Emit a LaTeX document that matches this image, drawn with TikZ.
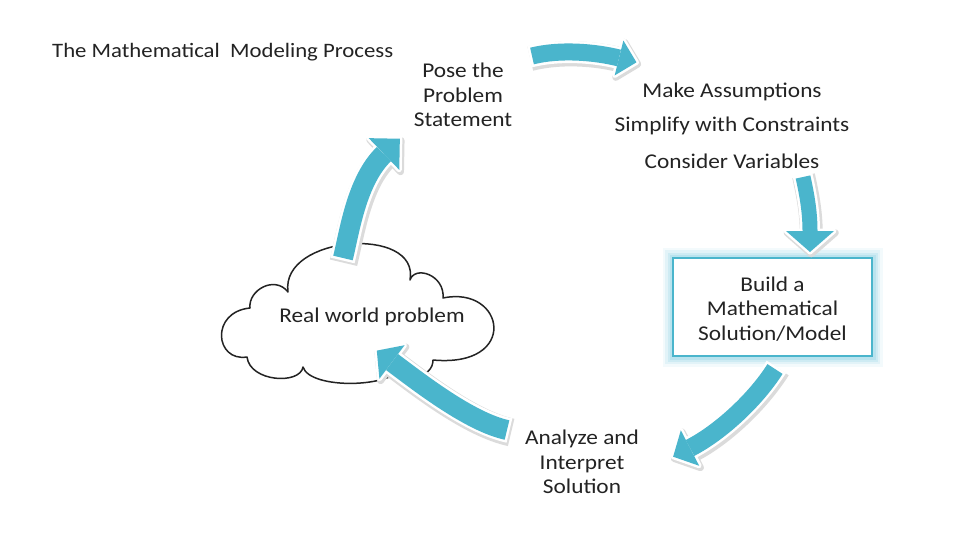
\documentclass[tikz,border=0pt]{standalone}
\usepackage{fontspec}
\setmainfont{Carlito}[FakeStretch=1.11]
\usetikzlibrary{calc}
\definecolor{teal1}{RGB}{74,181,204}
\definecolor{glowc}{RGB}{160,218,234}
\definecolor{ink}{RGB}{35,35,35}
\newcommand{\myblockarrow}[6]{%
  % #1 prefix, #2 head length, #3 head half width, #4 shaft width, #5 white width, #6 shadow width
  \coordinate (#1T) at ($(#1B)!-#2!(#1C2)$);
  \coordinate (#1P) at ($(#1B)!#3!90:(#1T)$);
  \coordinate (#1Q) at ($(#1B)!#3!-90:(#1T)$);
  \begin{scope}[transform canvas={shift={(1.2pt,-1.8pt)}}]
    \draw[draw=black!14, line width=#6, shorten <=-3pt] (#1S) .. controls (#1C1) and (#1C2) .. (#1B);
    \filldraw[fill=black!14, draw=black!14, line width=7pt, line join=round] (#1P) -- (#1T) -- (#1Q) -- cycle;
  \end{scope}
  \draw[white, line width=#5, shorten <=-2.5pt] (#1S) .. controls (#1C1) and (#1C2) .. (#1B);
  \filldraw[white, line width=5pt, line join=round] (#1P) -- (#1T) -- (#1Q) -- cycle;
  \draw[teal1, line width=#4] (#1S) .. controls (#1C1) and (#1C2) .. (#1B);
  \fill[teal1] (#1P) -- (#1T) -- (#1Q) -- cycle;
}
\begin{document}
\begin{tikzpicture}[x=1pt,y=-1pt,
  lbl/.style={font=\fontsize{21}{24.5}\selectfont, align=center, text=ink, inner sep=0pt},
  cloudline/.style={draw=ink, line width=1.5pt, fill=white, line join=round},
  boxline/.style={draw=teal1, line width=2.6pt, fill=white, minimum width=199pt, minimum height=98pt, inner sep=0pt}]
\useasboundingbox (0,0) rectangle (960,540);
\fill[white] (0,0) rectangle (960,540);

% title
\node[lbl, anchor=west, font=\fontsize{20.5}{24}\selectfont] (title) at (52,52) {The Mathematical~ Modeling Process};

% cloud
\draw[cloudline] (288,292) .. controls (280,235) and (420,225) .. (410,280)
  .. controls (415,265) and (445,275) .. (443,298)
  .. controls (505,285) and (520,368) .. (433,360)
  .. controls (433,378) and (405,382) .. (402,366)
  .. controls (395,388) and (310,390) .. (303,367)
  .. controls (300,385) and (250,382) .. (247,357)
  .. controls (215,362) and (210,312) .. (250,308)
  .. controls (248,290) and (275,275) .. (288,292) -- cycle;
\node[lbl] (real) at (372,317) {Real world problem};

% box with glow
\foreach \w/\o in {20/0.12,15/0.2,10/0.3,6/0.45} {
  \draw[draw=glowc, line width=\w pt, opacity=\o] (672.5,257.5) rectangle (872.5,356.5);
}
\node[boxline] (box) at (772.5,307) {};
\node[lbl] (build) at (772.5,309) {Build a\\Mathematical\\Solution/Model};

% texts
\node[lbl] (pose) at (463,95) {Pose the\\Problem\\Statement};
\node[lbl] (ma1) at (732,92) {Make Assumptions};
\node[lbl] (ma2) at (732,126) {Simplify with Constraints};
\node[lbl] (ma3) at (732,161) {Consider Variables};
\node[lbl] (anal) at (582,462) {Analyze and\\Interpret\\Solution};

% arrows
\coordinate (aS) at (532,56); \coordinate (aC1) at (560,49); \coordinate (aC2) at (595,52); \coordinate (aB) at (619,58);
\myblockarrow{a}{18pt}{18pt}{17pt}{22pt}{25pt}
\coordinate (bS) at (803,177); \coordinate (bC1) at (807,195); \coordinate (bC2) at (810,212); \coordinate (bB) at (810,231);
\myblockarrow{b}{21pt}{24pt}{15pt}{20pt}{23pt}
\coordinate (cS) at (775,369); \coordinate (cC1) at (756,399); \coordinate (cC2) at (721,432); \coordinate (cB) at (690,448);
\myblockarrow{c}{19pt}{20pt}{18pt}{23pt}{26pt}
\coordinate (dS) at (507,430); \coordinate (dC1) at (470,422); \coordinate (dC2) at (420,383); \coordinate (dB) at (392,362);
\myblockarrow{d}{19pt}{21pt}{20pt}{25pt}{28pt}
\coordinate (eS) at (343,258); \coordinate (eC1) at (350,229); \coordinate (eC2) at (357,180); \coordinate (eB) at (384,154);
\myblockarrow{e}{22pt}{22pt}{20pt}{25pt}{28pt}
\end{tikzpicture}
\end{document}
